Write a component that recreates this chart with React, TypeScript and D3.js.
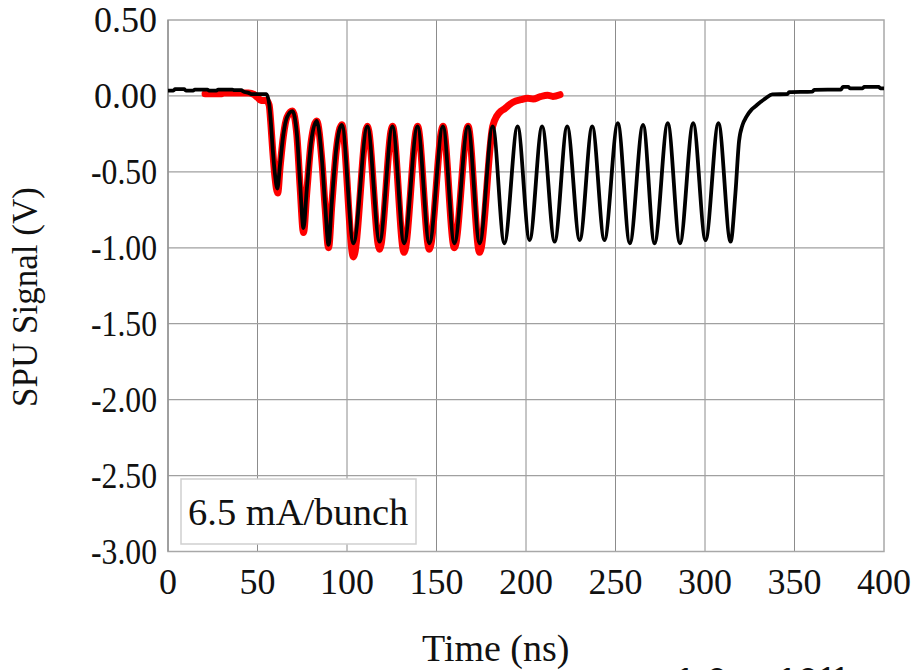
import React from "react";
import * as d3 from "d3";

// ---- Data ----
const xTicks = [0, 50, 100, 150, 200, 250, 300, 350, 400];
const yTicks = [0.5, 0, -0.5, -1, -1.5, -2, -2.5, -3];
const yTickLabels = ["0.50", "0.00", "-0.50", "-1.00", "-1.50", "-2.00", "-2.50", "-3.00"];

// Long bunch train (black)
const blackTime = [
  0, 3, 4, 9, 10, 14, 15, 22, 23, 27, 28, 36, 37, 41, 42, 45, 47, 55, 56.5, 57.5, 58.5, 59.8, 61.1,
  62.6, 64.5, 66.5, 69.5, 72, 73.8, 75.7, 77.5, 80, 83.1, 86, 87.8, 89.7, 91.5, 94, 97.1,
  103.6, 111.4, 118.2, 125.4, 131.9, 139.4, 146, 153.6, 160, 167.6, 174.1, 181.4, 187.9, 195.3,
  202, 209, 216, 223, 230, 237, 243.8, 251.3, 258, 265.4, 271.8, 279.2, 286, 293.4, 300.3, 307.5,
  314.3, 317, 319, 321, 323, 326, 328, 331, 334, 337.6, 346, 347, 360, 361, 376, 377, 380, 381,
  388, 389, 397, 398, 400,
];
const blackSignal = [
  0.035, 0.035, 0.045, 0.045, 0.035, 0.035, 0.042, 0.042, 0.035, 0.035, 0.042, 0.042, 0.038, 0.038,
  0.03, 0.02, 0.012, 0.012, -0.05, -0.18, -0.35, -0.52, -0.61,
  -0.45, -0.25, -0.14, -0.1, -0.25, -0.58, -0.87, -0.62, -0.3, -0.165, -0.42, -0.72, -0.98, -0.7, -0.35, -0.19,
  -0.97, -0.2, -0.96, -0.2, -0.97, -0.2, -0.97, -0.2, -0.97, -0.2, -0.97, -0.2, -0.97, -0.2,
  -0.95, -0.2, -0.96, -0.2, -0.95, -0.2, -0.95, -0.18, -0.97, -0.19, -0.97, -0.18, -0.97, -0.18, -0.95, -0.18,
  -0.96, -0.64, -0.3, -0.19, -0.14, -0.09, -0.07, -0.04, -0.015, 0.01, 0.012, 0.025, 0.028, 0.04, 0.042, 0.06,
  0.06, 0.05, 0.05, 0.06, 0.06, 0.05, 0.05,
];

// Short bunch train (red)
const redTime = [
  20.7, 30, 31, 45, 48, 50, 52, 55, 56.5, 57.5, 58.5, 59.8, 61.3,
  62.6, 64.5, 66.5, 69.5, 72, 73.8, 75.7, 77.5, 80, 83.1, 86, 87.8, 89.7, 91.5, 94, 97.1,
  103.6, 111.4, 118.2, 125.4, 131.9, 139.4, 146, 153.6, 160, 167.6, 174.1, 181.4,
  183.8, 186, 188, 190.5, 193, 197, 201, 204, 208, 212, 215, 219,
];
const redSignal = [
  0.015, 0.015, 0.02, 0.02, 0.01, -0.01, -0.03, -0.03, -0.06, -0.19, -0.36, -0.54, -0.64,
  -0.47, -0.26, -0.14, -0.1, -0.26, -0.6, -0.9, -0.64, -0.3, -0.165, -0.43, -0.74, -1.0, -0.72, -0.36, -0.19,
  -1.06, -0.2, -1.01, -0.2, -1.03, -0.2, -1.01, -0.2, -1.0, -0.2, -1.03, -0.2,
  -0.13, -0.1, -0.085, -0.06, -0.04, -0.025, -0.015, -0.02, -0.005, 0.005, -0.003, 0.008,
];

const legendText = "6.5 mA/bunch";
const xTitle = "Time (ns)";
const yTitle = "SPU Signal (V)";

const FONT = '"Liberation Serif"';

export default function App() {
  const W = 915;
  const H = 670;
  const x = d3.scaleLinear().domain([0, 400]).range([168, 884]);
  const y = d3.scaleLinear().domain([-3, 0.5]).range([551.5, 20]);

  const line = d3
    .line<[number, number]>()
    .x((d) => x(d[0]))
    .y((d) => y(d[1]))
    .curve(d3.curveMonotoneX);

  const blackPts: [number, number][] = blackTime.map((t, i) => [t, blackSignal[i]]);
  const redPts: [number, number][] = redTime.map((t, i) => [t, redSignal[i]]);

  const [x0, x1] = x.range();
  const [yb, yt] = y.range();
  const ts = (size: number, extra: React.CSSProperties = {}): React.CSSProperties => ({
    fontFamily: FONT,
    fontSize: size,
    ...extra,
  });

  return (
    <svg width={W} height={H} style={{ position: "absolute", left: 0, top: 0, background: "#fff" }}>
      <rect x={0} y={0} width={W} height={H} fill="#fff" />
      {/* grid */}
      {xTicks.slice(1, -1).map((t) => (
        <line key={"gx" + t} x1={x(t)} x2={x(t)} y1={yt} y2={yb} stroke="#8c8c8c" strokeWidth={1} />
      ))}
      {yTicks.slice(1, -1).map((t) => (
        <line key={"gy" + t} x1={x0} x2={x1} y1={y(t)} y2={y(t)} stroke="#a0a0a0" strokeWidth={1.2} />
      ))}
      {/* frame */}
      <rect x={x0} y={yt} width={x1 - x0} height={yb - yt} fill="none" stroke="#a8a8a8" strokeWidth={1.5} />
      <line x1={x0} x2={x0} y1={yt} y2={yb} stroke="#8c8c8c" strokeWidth={1.2} />

      {/* series */}
      <path d={line(redPts) || ""} fill="none" stroke="#ff0000" strokeWidth={7} strokeLinejoin="round" strokeLinecap="round" />
      <path d={line(blackPts) || ""} fill="none" stroke="#000" strokeWidth={3.8} strokeLinejoin="round" />

      {/* y tick labels */}
      {yTicks.map((t, i) => {
        const neg = yTickLabels[i].startsWith("-");
        return (
          <text
            key={"yl" + t}
            x={157}
            y={y(t) + 12}
            textAnchor="end"
            style={ts(36)}
            fill="#111"
            {...(neg ? { textLength: 66, lengthAdjust: "spacingAndGlyphs" } : {})}
          >
            {yTickLabels[i]}
          </text>
        );
      })}
      {/* x tick labels */}
      {xTicks.map((t) => (
        <text key={"xl" + t} x={x(t)} y={594} textAnchor="middle" style={ts(36)} fill="#111">
          {t}
        </text>
      ))}

      {/* legend box */}
      <rect x={181} y={479} width={235} height={65} fill="#fff" stroke="#cfcfcf" strokeWidth={1.5} />
      <text x={188} y={525} style={ts(38.5)} fill="#111">
        {legendText}
      </text>

      {/* axis titles */}
      <text transform={`translate(37, 297) rotate(-90)`} textAnchor="middle" style={ts(35)} fill="#111">
        {yTitle}
      </text>
      <text x={422} y={661} style={ts(38)} fill="#111">
        {xTitle}
      </text>

      {/* annotation cut by the bottom edge, as in the reference */}
      <text x={673} y={697} style={ts(44, { fontWeight: "bold" })} fill="#111">
        1.0 × 10
        <tspan style={ts(30, { fontWeight: "bold" })} dy={-11}>11</tspan>
      </text>
    </svg>
  );
}
